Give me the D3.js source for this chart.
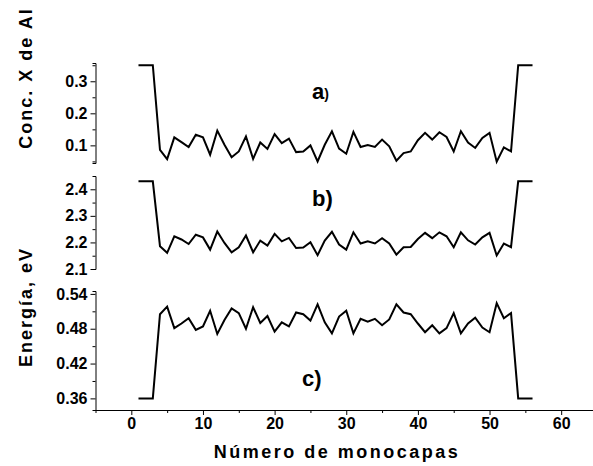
<!DOCTYPE html>
<html>
<head>
<meta charset="utf-8">
<script src="https://cdn.jsdelivr.net/npm/d3@7"></script>
<style>
  body { margin: 0; background: #fff; }
  svg text { font-family: "Liberation Sans", Arial, sans-serif; font-weight: bold; fill: #000; }
  .axis path, .axis line { stroke: #000; stroke-width: 1; }
</style>
</head>
<body>
<script>
// numero de monocapa
var monocapas = [1,2,3,4,5,6,7,8,9,10,11,12,13,14,15,16,17,18,19,20,21,22,23,24,25,26,27,28,
                 29,30,31,32,33,34,35,36,37,38,39,40,41,42,43,44,45,46,47,48,49,50,51,52,53,54,55,56];

// a) concentracion x de Al
var concAl = [0.35,0.35,0.35,
  0.086,0.057,0.125,0.110,0.095,0.133,0.125,0.071,0.146,0.102,
  0.063,0.081,0.128,0.058,0.109,0.089,0.135,0.107,0.121,0.079,
  0.081,0.100,0.050,0.102,0.144,0.090,0.074,0.142,0.095,0.101,
  0.095,0.118,0.097,0.052,0.076,0.081,0.116,0.139,0.118,0.141,
  0.126,0.081,0.144,0.109,0.092,0.123,0.139,0.049,0.094,0.081,
  0.35,0.35,0.35];

// b) energia (eV)
var energiaB = [2.43,2.43,2.43,
  2.186,2.161,2.223,2.211,2.194,2.229,2.219,2.173,2.241,2.198,
  2.163,2.182,2.226,2.163,2.207,2.188,2.232,2.204,2.217,2.179,
  2.181,2.201,2.152,2.207,2.240,2.192,2.173,2.238,2.196,2.204,
  2.196,2.216,2.196,2.154,2.182,2.183,2.213,2.236,2.216,2.238,
  2.223,2.182,2.238,2.208,2.192,2.219,2.236,2.151,2.196,2.182,
  2.43,2.43,2.43];

// c) energia (eV)
var energiaC = [0.36,0.36,0.36,
  0.505,0.518,0.481,0.489,0.498,0.478,0.484,0.511,0.471,0.495,
  0.515,0.507,0.480,0.517,0.490,0.502,0.475,0.491,0.484,0.508,
  0.505,0.494,0.522,0.491,0.472,0.501,0.511,0.472,0.497,0.492,
  0.497,0.486,0.496,0.522,0.508,0.505,0.489,0.474,0.486,0.472,
  0.481,0.507,0.472,0.489,0.499,0.482,0.474,0.524,0.498,0.507,
  0.36,0.36,0.36];

var xTicks = [0,10,20,30,40,50,60];
var ticksA = [0.1,0.2,0.3], ticksB = [2.1,2.2,2.3,2.4], ticksC = [0.36,0.42,0.48,0.54];
var minorA = [0.05,0.15,0.25,0.35], minorB = [2.15,2.25,2.35], minorC = [0.39,0.45,0.51];

var width = 593, height = 466;
var svg = d3.select("body").append("svg")
    .attr("width", width)
    .attr("height", height);

var axisX = 95.5;

var x = d3.scaleLinear().domain([-5, 65]).range([axisX, 597]);

// three stacked panels sharing x
var panels = [
  {data: concAl,   domain: [0.045, 0.357], range: [163, 63],  ticks: ticksA, minor: minorA, fmt: d3.format(".1f"), label: "a", lx: 312, ly: 99,  small: true},
  {data: energiaB, domain: [2.1, 2.45],    range: [269, 176], ticks: ticksB, minor: minorB, fmt: d3.format(".1f"), label: "b)", lx: 312, ly: 206},
  {data: energiaC, domain: [0.34, 0.545],  range: [410, 291], ticks: ticksC, minor: minorC, fmt: d3.format(".2f"), label: "c)", lx: 302, ly: 386}
];

panels.forEach(function(p) {
  var y = d3.scaleLinear().domain(p.domain).range(p.range);

  svg.append("g")
      .attr("class", "axis")
      .attr("transform", "translate(" + axisX + ",0)")
      .call(d3.axisLeft(y).tickValues(p.minor).tickSize(3).tickFormat(""))
      .select(".domain").remove();

  var ax = svg.append("g")
      .attr("class", "axis")
      .attr("transform", "translate(" + axisX + ",0)")
      .call(d3.axisLeft(y).tickValues(p.ticks).tickSize(5).tickSizeOuter(3).tickPadding(3).tickFormat(p.fmt));
  ax.selectAll("text").style("font-size", "16px");

  var line = d3.line()
      .x(function(d, i) { return x(monocapas[i]); })
      .y(function(d) { return y(d); });

  svg.append("path")
      .datum(p.data)
      .attr("fill", "none")
      .attr("stroke", "#000")
      .attr("stroke-width", 2)
      .attr("stroke-linejoin", "miter")
      .attr("d", line);

  var t = svg.append("text")
      .attr("x", p.lx)
      .attr("y", p.ly)
      .style("font-size", "22px")
      .text(p.label);
  if (p.small) t.append("tspan").style("font-size", "14px").text(")");
});

// x axis
svg.append("g")
    .attr("class", "axis")
    .attr("transform", "translate(0,410)")
    .call(d3.axisBottom(x).tickValues([-5,5,15,25,35,45,55,65]).tickSize(3).tickFormat(""))
    .select(".domain").remove();

var xa = svg.append("g")
    .attr("class", "axis")
    .attr("transform", "translate(0,410)")
    .call(d3.axisBottom(x).tickValues(xTicks).tickSize(5).tickSizeOuter(0).tickPadding(3));
xa.selectAll("text").style("font-size", "16px");

svg.append("text")
    .attr("x", 337)
    .attr("y", 458)
    .attr("text-anchor", "middle")
    .style("font-size", "18px")
    .style("letter-spacing", "2.5px")
    .text("Número de monocapas");

svg.append("text")
    .attr("transform", "translate(32,78) rotate(-90)")
    .attr("text-anchor", "middle")
    .style("font-size", "18px")
    .style("letter-spacing", "2px")
    .text("Conc. X de Al");

svg.append("text")
    .attr("transform", "translate(32,307) rotate(-90)")
    .attr("text-anchor", "middle")
    .style("font-size", "18px")
    .style("letter-spacing", "2px")
    .text("Energía, eV");
</script>
</body>
</html>
